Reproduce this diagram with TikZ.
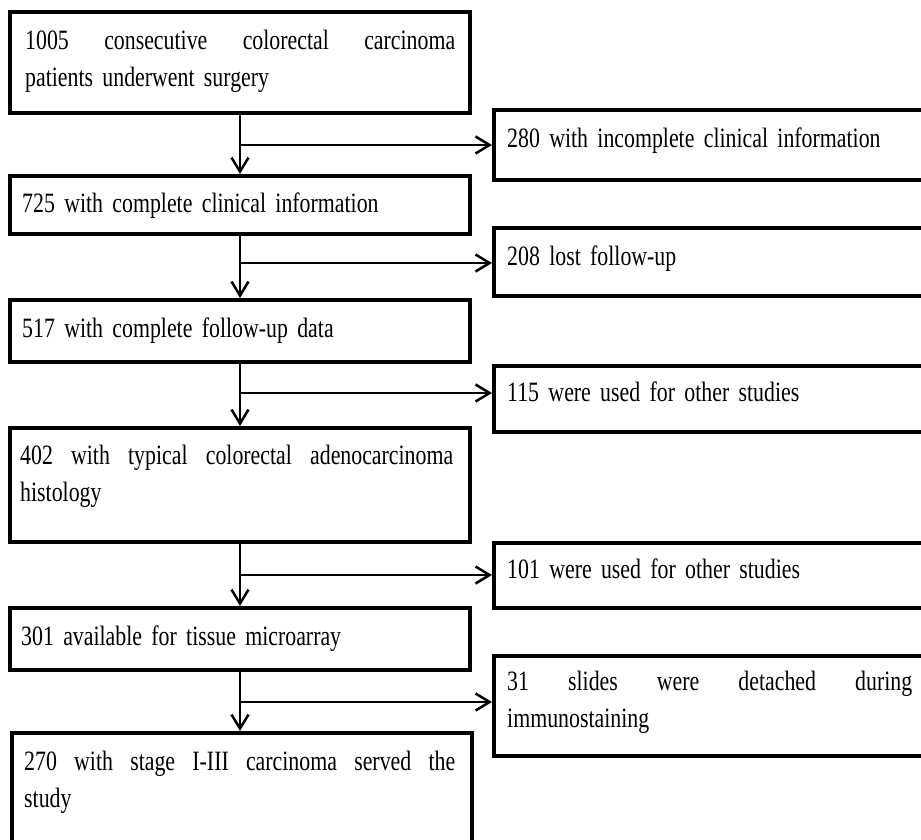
\documentclass[tikz,border=0pt]{standalone}
\usepackage{fontspec}
\setmainfont[FakeStretch=0.78,WordSpace=1.8]{Liberation Serif}
\usetikzlibrary{arrows.meta}
\begin{document}
\begin{tikzpicture}[x=1pt,y=-1pt,
  box/.style={draw,line width=4pt,outer sep=0pt,inner sep=0pt,anchor=north west,minimum width=460pt},
  txt/.style={anchor=base west,inner sep=0pt,text width=440pt,align=left,font=\fontsize{28}{37}\selectfont},
  flow/.style={line width=2.5pt,-{Straight Barb[length=14pt,width=17pt,line width=2.5pt]},shorten >=2pt}]
\useasboundingbox (0,0) rectangle (921,840);
% main column
\node[box,minimum height=101pt] (b1) at (10,12) {};
\node[box,minimum height=58pt] (b2) at (10,176) {};
\node[box,minimum height=62pt] (b3) at (10,300) {};
\node[box,minimum height=114pt] (b4) at (10,428) {};
\node[box,minimum height=62pt] (b5) at (10,608) {};
\node[box,minimum height=140pt] (b6) at (12,733) {};
% side column
\node[box,minimum height=70pt] (r1) at (494,110) {};
\node[box,minimum height=68pt] (r2) at (494,228) {};
\node[box,minimum height=66pt] (r3) at (494,366) {};
\node[box,minimum height=65pt] (r4) at (494,543) {};
\node[box,minimum height=100pt] (r5) at (494,656) {};
% texts
\node[txt] (t1) at (25,50) {\hbox to 430pt{1005\hfill consecutive\hfill colorectal\hfill carcinoma}\\patients underwent surgery};
\node[txt] (t2) at (22,212) {725 with complete clinical information};
\node[txt] (t3) at (22,337) {517 with complete follow-up data};
\node[txt] (t4) at (20,464) {\hbox to 433pt{402\hfill with\hfill typical\hfill colorectal\hfill adenocarcinoma}\\histology};
\node[txt] (t5) at (21,645) {301 available for tissue microarray};
\node[txt] (t6) at (24,770) {\hbox to 431pt{270\hfill with\hfill stage\hfill I-III\hfill carcinoma\hfill served\hfill the}\\study};
\node[txt] (s1) at (507,147) {280 with incomplete clinical information};
\node[txt] (s2) at (507,265) {208 lost follow-up};
\node[txt] (s3) at (507,401) {115 were used for other studies};
\node[txt] (s4) at (507,578) {101 were used for other studies};
\node[txt] (s5) at (507,690) {\hbox to 405pt{31\hfill slides\hfill were\hfill detached\hfill during}\\immunostaining};
% junctions
\coordinate (j1) at (240,145);
\coordinate (j2) at (240,263);
\coordinate (j3) at (240,393);
\coordinate (j4) at (240,575);
\coordinate (j5) at (240,702);
% connectors
\draw[flow] (b1.south) -- (b2.north);
\draw[flow] (b2.south) -- (b3.north);
\draw[flow] (b3.south) -- (b4.north);
\draw[flow] (b4.south) -- (b5.north);
\draw[flow] (b5.south) -- (b5.south |- b6.north);
\draw[flow] (j1) -- (j1 -| r1.west);
\draw[flow] (j2) -- (j2 -| r2.west);
\draw[flow] (j3) -- (j3 -| r3.west);
\draw[flow] (j4) -- (j4 -| r4.west);
\draw[flow] (j5) -- (j5 -| r5.west);
\end{tikzpicture}
\end{document}
